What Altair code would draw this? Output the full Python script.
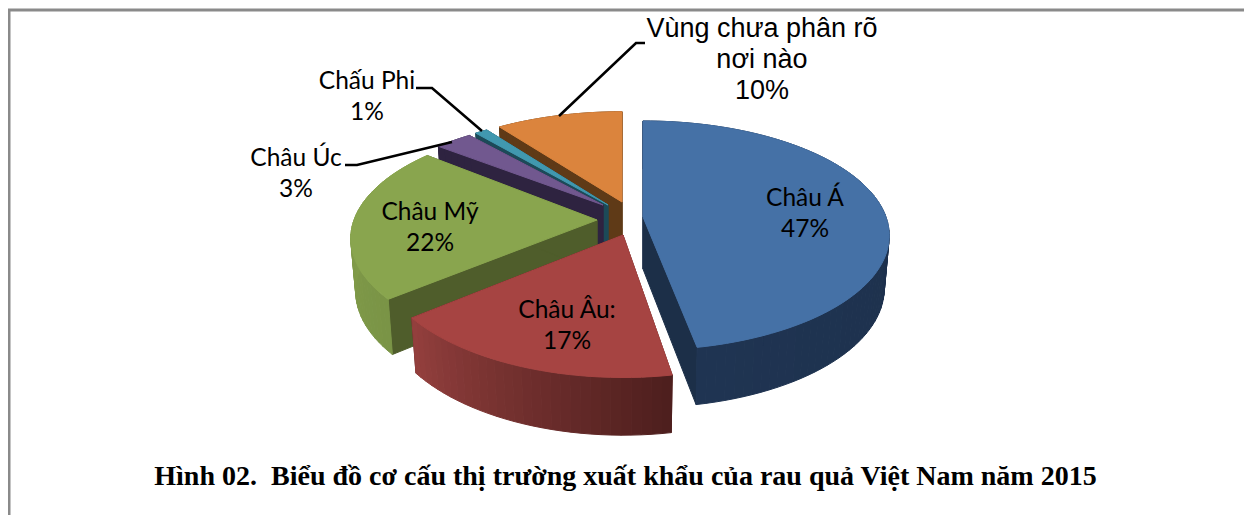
import math
import altair as alt

categories = ["Châu Á", "Châu Âu:", "Châu Mỹ", "Châu Úc", "Chấu Phi", "Vùng chưa phân rõ\nnơi nào"]
values = [47, 17, 22, 3, 1, 10]
title_text = "Hình 02.\u00a0 Biểu đồ cơ cấu thị trường xuất khẩu của rau quả Việt Nam năm 2015"

top_colors = ["#4571a6", "#a64442", "#89a54e", "#71588f", "#4198af", "#db843d"]
radial_walls = ["#1c2f48", "#5a2423", "#4f5d2b", "#2e2340", "#1c4a58", "#5f3a17"]
arc_wall_from = ["#1b2d46", "#4e1f1e", "#7a9446", "#2e2340", "#1c4a58", "#5f3a17"]
arc_wall_to = ["#1f3452", "#933f3d", "#88a34d", "#2e2340", "#1c4a58", "#5f3a17"]

# Placement of each exploded slice on the page:
# apex x, apex y, x stretch, y stretch, perspective turn in degrees
placement = [
    (635, 209, 1.0, 1.0, 0),
    (615, 227, 1.0, 1.07, 1),
    (589, 212, 1.0, 1.0, 0),
    (595, 197, 0.97, 0.91, 0),
    (600, 197, 0.96, 0.94, 0),
    (614, 194, 0.97, 0.94, 0),
]
A, B, K = 243.0, 111.6, 0.162   # disc half-width, half-depth, perspective
DEPTH, BOTTOM_X, BOTTOM_Y = 52.0, 0.98, 1.04

label_pos = [(797, 191), (559, 303), (422, 205), (288, 151), (359, 74), (754, 21)]
line_step = 31


def point(theta, p, bottom=False):
    cx, cy, sx, sy, turn = p
    theta = theta + math.radians(turn)
    px, py = math.sin(theta), math.cos(theta)
    s = 1 / (1 + K * py)
    zx, zy, d = (BOTTOM_X, BOTTOM_Y, DEPTH) if bottom else (1, 1, 0)
    return [cx + sx * zx * A * px * s, cy + d - sy * zy * B * py * s]


def mix(a, b, t):
    ca = [int(a[i:i + 2], 16) for i in (1, 3, 5)]
    cb = [int(b[i:i + 2], 16) for i in (1, 3, 5)]
    return "#%02x%02x%02x" % tuple(round(x + (y - x) * t) for x, y in zip(ca, cb))


def poly(coords, color):
    ring = [list(c) for c in coords] + [list(coords[0])]
    return {"type": "Feature", "geometry": {"type": "Polygon", "coordinates": [ring]},
            "properties": {"color": color}}


features = []
total = sum(values)
starts = []
acc = 0
for v in values:
    starts.append(acc)
    acc += v

# Painter's order: back slices first, the largest front slice last
for i in [5, 4, 3, 2, 1, 0]:
    p = placement[i]
    a0 = starts[i] / total * 2 * math.pi
    a1 = (starts[i] + values[i]) / total * 2 * math.pi
    n = max(4, int((a1 - a0) / math.radians(2)))
    thetas = [a0 + (a1 - a0) * j / n for j in range(n + 1)]
    apex_t, apex_b = [p[0], p[1]], [p[0], p[1] + DEPTH]
    for t in (a0, a1):
        features.append(poly([apex_t, point(t, p), point(t, p, True), apex_b], radial_walls[i]))
    for j in range(n):
        q = [point(thetas[j], p), point(thetas[j + 1], p),
             point(thetas[j + 1], p, True), point(thetas[j], p, True)]
        features.append(poly(q, mix(arc_wall_from[i], arc_wall_to[i], j / max(1, n - 1))))
    features.append(poly([apex_t] + [point(t, p) for t in thetas], top_colors[i]))

pie = alt.Chart(alt.Data(values=features)).mark_geoshape(strokeWidth=1).encode(
    fill=alt.Fill("properties.color:N", scale=None),
    stroke=alt.Stroke("properties.color:N", scale=None),
)

leaders = [
    [[551, 108], [628, 35], [637, 35]],
    [[474, 123], [424, 80], [408, 80]],
    [[444, 134], [349, 157], [337, 157]],
]
leader_features = [{"type": "Feature", "geometry": {"type": "LineString", "coordinates": c}, "properties": {}}
                   for c in leaders]
leader_layer = alt.Chart(alt.Data(values=leader_features)).mark_geoshape(
    filled=False, stroke="#000000", strokeWidth=2.6)

frame_features = [{"type": "Feature", "properties": {},
                   "geometry": {"type": "LineString", "coordinates": [[1, 507], [1, 2], [1236, 2]]}}]
frame_layer = alt.Chart(alt.Data(values=frame_features)).mark_geoshape(
    filled=False, stroke="#8a8a8a", strokeWidth=3)

rows_calibri, rows_arial = [], []
for i, name in enumerate(categories):
    x, y = label_pos[i]
    lines = name.split("\n") + [f"{values[i]}%"]
    target = rows_arial if i == 5 else rows_calibri
    for j, line in enumerate(lines):
        target.append({"text": line, "lon": x, "lat": y + j * line_step})

calibri_layer = alt.Chart(alt.Data(values=rows_calibri)).mark_text(
    font="Lato", fontSize=24.5, color="#000000", align="center", baseline="middle"
).encode(longitude="lon:Q", latitude="lat:Q", text="text:N")

arial_layer = alt.Chart(alt.Data(values=rows_arial)).mark_text(
    font="Liberation Sans", fontSize=27, color="#000000", align="center", baseline="middle"
).encode(longitude="lon:Q", latitude="lat:Q", text="text:N")

title_layer = alt.Chart(alt.Data(values=[{"text": title_text, "lon": 617.5, "lat": 469}])).mark_text(
    font="Liberation Serif", fontSize=28, fontWeight="bold", color="#000000", align="center", baseline="middle"
).encode(longitude="lon:Q", latitude="lat:Q", text="text:N")

chart = alt.layer(frame_layer, pie, leader_layer, calibri_layer, arial_layer, title_layer).project(
    type="identity", scale=1, translate=[0, 0]
).properties(width=1236, height=507, padding=0, background="#ffffff").configure_view(stroke=None)

chart.save("out.html", embed_options={"renderer": "svg", "actions": False})
